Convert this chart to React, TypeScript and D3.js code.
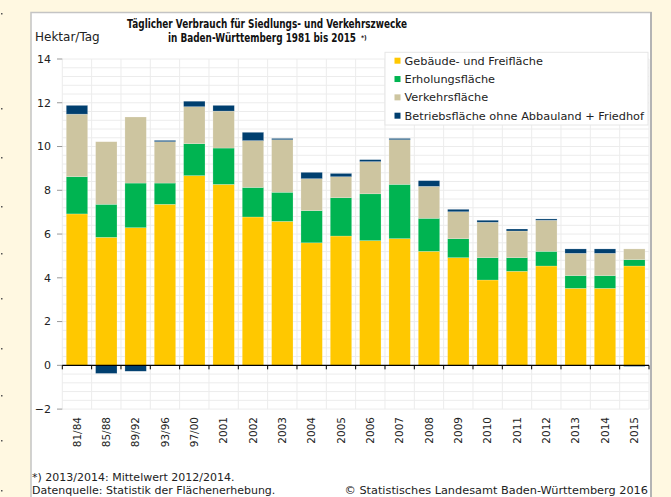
import React from "react";
import * as d3 from "d3";

const categories = ["81/84","85/88","89/92","93/96","97/00","2001","2002","2003","2004","2005","2006","2007","2008","2009","2010","2011","2012","2013","2014","2015"];
const gebaeude = [6.92,5.85,6.29,7.36,8.67,8.27,6.78,6.58,5.60,5.91,5.70,5.79,5.21,4.92,3.90,4.30,4.54,3.52,3.52,4.54];
const erholung = [1.70,1.51,2.04,0.97,1.46,1.66,1.35,1.33,1.47,1.75,2.14,2.48,1.51,0.87,1.02,0.62,0.67,0.58,0.58,0.29];
const verkehr = [2.86,2.86,3.02,1.89,1.69,1.69,2.14,2.40,1.46,0.96,1.47,2.04,1.46,1.23,1.62,1.22,1.42,1.02,1.02,0.49];
const betrieb = [0.40,-0.37,-0.27,0.06,0.25,0.26,0.38,0.06,0.29,0.15,0.09,0.06,0.26,0.11,0.09,0.09,0.06,0.20,0.20,-0.05];
const seriesNames = ["Gebäude- und Freifläche","Erholungsfläche","Verkehrsfläche","Betriebsfläche ohne Abbauland + Friedhof"];
const seriesColors = ["#ffc800","#00b451","#cdc5a0","#003f6f"];
const yTicks = [-2,0,2,4,6,8,10,12,14];

export default function App() {
  const W = 671, H = 497;
  const x = d3.scaleBand<string>().domain(categories).range([62.3, 649]).padding(0);
  const y = d3.scaleLinear().domain([-2, 14]).range([409.1, 59.0]);
  const rows = categories.map((c, i) => ({ cat: c, s0: gebaeude[i], s1: erholung[i], s2: verkehr[i], s3: betrieb[i] }));
  const stack = d3.stack<any>().keys(["s0","s1","s2","s3"]).offset(d3.stackOffsetDiverging);
  const stacked = stack(rows);
  const bw = x.bandwidth() * 0.73;
  const minor = d3.range(-2, 14.001, 0.4);
  const font = "'DejaVu Sans', Verdana, sans-serif";
  const titleFont = "'Liberation Sans Narrow', 'DejaVu Sans Condensed', 'DejaVu Sans', sans-serif";
  const boundaries = d3.range(categories.length + 1).map(i => 62.3 + i * x.step());

  return (
    <svg width={W} height={H} style={{ position: "absolute", left: 0, top: 0, display: "block" }} fontFamily={font}>
      <rect x={0} y={0} width={W} height={H} fill="#fff8e1" />
      <rect x={31} y={12.5} width={620} height={500} fill="#ffffff" stroke="#c4c4c4" strokeWidth={1.5} />
      <line x1={651} y1={12} x2={651} y2={H} stroke="#b4b4b4" strokeWidth={2} />
      {[13, 108, 157, 206, 253, 298, 348, 395, 440, 490].map((py, i) => (
        <rect key={i} x={1} y={py} width={1.5} height={1.5} fill="#555" />
      ))}
      {minor.map((v, i) => (
        <line key={"h" + i} x1={62.3} x2={649} y1={y(v)} y2={y(v)} stroke="#ececec" strokeWidth={1} />
      ))}
      {boundaries.map((bx, i) => (
        <line key={"v" + i} x1={bx} x2={bx} y1={y(14)} y2={y(-2)} stroke="#ececec" strokeWidth={1} />
      ))}
      {yTicks.map(t => (
        <g key={"yt" + t}>
          <line x1={57} x2={62.3} y1={y(t)} y2={y(t)} stroke="#999" strokeWidth={1} />
          <text x={51} y={y(t)} dy="0.35em" textAnchor="end" fontSize={11} fill="#222">{t < 0 ? "\u2212" + Math.abs(t) : t}</text>
        </g>
      ))}
      {stacked.map((s, si) => (
        <g key={"s" + si} fill={seriesColors[si]}>
          {s.map((d, i) => {
            const y0 = y(d[0]), y1 = y(d[1]);
            const top = Math.min(y0, y1), h = Math.abs(y0 - y1);
            if (h < 0.01) return null;
            return <rect key={i} x={(x(categories[i]) as number) + (x.bandwidth() - bw) / 2} y={top} width={bw} height={h} stroke="#ffffff" strokeOpacity={0.35} strokeWidth={0.6} />;
          })}
        </g>
      ))}
      <line x1={62.3} x2={649} y1={y(0)} y2={y(0)} stroke="#000" strokeWidth={1.2} />
      {boundaries.map((bx, i) => (
        <line key={"xt" + i} x1={bx} x2={bx} y1={y(0)} y2={y(0) + 4} stroke="#000" strokeWidth={1} />
      ))}
      {categories.map(c => (
        <text key={"xl" + c} transform={`translate(${(x(c) as number) + x.bandwidth() / 2},417) rotate(-90)`} dy="0.35em" textAnchor="end" fontSize={10.5} fill="#222">{c}</text>
      ))}
      <text x={127} y={28} fontFamily={titleFont} fontSize={12.5} fontWeight="bold" fill="#111" textLength={280} lengthAdjust="spacingAndGlyphs">Täglicher Verbrauch für Siedlungs- und Verkehrszwecke</text>
      <text x={168} y={41.5} fontFamily={titleFont} fontSize={12.5} fontWeight="bold" fill="#111" textLength={188} lengthAdjust="spacingAndGlyphs">in Baden-Württemberg 1981 bis 2015</text>
      <text x={361} y={39.5} fontFamily={titleFont} fontSize={6.5} fontWeight="bold" fill="#111">*)</text>
      <text x={35} y={40.5} fontSize={12} fill="#222">Hektar/Tag</text>
      <rect x={385} y={52.3} width={263} height={72.7} fill="#ffffff" stroke="#e6e6e6" strokeWidth={1} />
      {seriesNames.map((n, i) => (
        <g key={"lg" + i}>
          <rect x={394.5} y={60.7 + i * 18.33 - 3} width={6} height={6} fill={seriesColors[i]} />
          <text x={404.5} y={60.7 + i * 18.33} dy="0.35em" fontSize={11.3} fill="#222">{n}</text>
        </g>
      ))}
      <text x={32} y={481} fontSize={11} fill="#222">*) 2013/2014: Mittelwert 2012/2014.</text>
      <text x={32} y={493.5} fontSize={11} fill="#222">Datenquelle: Statistik der Flächenerhebung.</text>
      <text x={648} y={493.5} textAnchor="end" fontSize={11.3} fill="#222">© Statistisches Landesamt Baden-Württemberg 2016</text>
    </svg>
  );
}
